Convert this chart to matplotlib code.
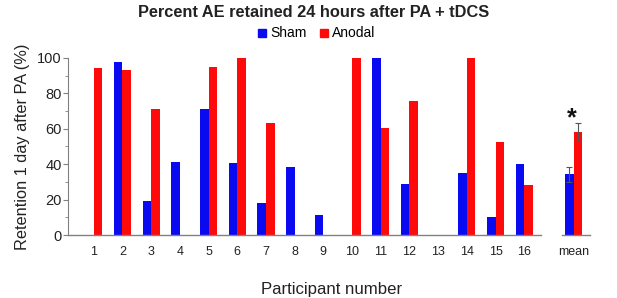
import matplotlib
matplotlib.use("Agg")
import matplotlib.pyplot as plt
import numpy as np

plt.rcParams['font.family'] = ['Liberation Sans', 'DejaVu Sans']

participants = [str(i) for i in range(1, 17)]
# np.nan = no bar for that participant
sham = [np.nan, 97.7, 19.5, 41.0, 71.1, 40.4, 18.0, 38.5, 11.3, np.nan,
        100, 28.6, np.nan, 34.8, 10.3, 40.0]
anodal = [94.5, 93.2, 70.9, np.nan, 95.1, 100, 63.0, np.nan, np.nan, 100,
          60.2, 75.8, np.nan, 100, 52.8, 28.4]
mean_sham, mean_anodal = 34.3, 58.2
err_sham, err_anodal = 4.3, 5.0

blue = "#0a0af0"
red = "#ff0a0a"
grey = "#808080"
txt = "#222222"

fig = plt.figure(figsize=(6.17, 2.98), dpi=100)
ax = fig.add_axes([0.110, 0.211, 0.856, 0.595])

x = np.arange(1, 17)
w = 0.3
ax.bar(x - w / 2, sham, w, color=blue)
ax.bar(x + w / 2, anodal, w, color=red)

xm = 17.72
ekw = dict(ecolor="#555555", elinewidth=0.8, capsize=2, capthick=0.8)
ax.bar(xm - w / 2, mean_sham, w, color=blue, yerr=err_sham, error_kw=ekw)
ax.bar(xm + w / 2, mean_anodal, w, color=red, yerr=err_anodal, error_kw=ekw)
ax.text(xm - 0.05, 66.0, "*", ha="center", va="center",
        fontsize=18, fontweight="bold", color="#111111")

ax.set_xlim(0.1, 18.5)
ax.set_ylim(0, 100)

# broken x axis line
ax.plot([0.1, 16.6], [0, 0], color=grey, lw=1, clip_on=False)
ax.plot([17.3, 18.28], [0, 0], color=grey, lw=1, clip_on=False)

for s in ["top", "right", "bottom"]:
    ax.spines[s].set_visible(False)
ax.spines["left"].set_color(grey)
ax.spines["left"].set_bounds(0, 100)

ax.set_yticks(np.arange(0, 101, 20))
ax.set_yticks(np.arange(10, 100, 20), minor=True)
ax.tick_params(axis="y", which="major", colors=grey, labelcolor=txt,
               labelsize=10.5, length=3.5, pad=1)
ax.tick_params(axis="y", which="minor", colors=grey, length=2.5)
ax.set_xticks(list(x) + [xm])
ax.set_xticklabels(participants + ["mean"])
ax.tick_params(axis="x", length=0, labelsize=9, labelcolor=txt, pad=8)

ax.set_ylabel("Retention 1 day after PA (%)", fontsize=11.8, color=txt)
ax.yaxis.set_label_coords(-0.072, 0.5)
ax.set_xlabel("Participant number", fontsize=12.1, color=txt, labelpad=17)

fig.text(0.509, 0.957, "Percent AE retained 24 hours after PA + tDCS",
         ha="center", va="center", fontsize=11.8, fontweight="bold", color=txt)
h1 = plt.Line2D([], [], marker="s", ls="", color=blue, markersize=5.5)
h2 = plt.Line2D([], [], marker="s", ls="", color=red, markersize=5.5)
fig.legend([h1, h2], ["Sham", "Anodal"], loc="center", bbox_to_anchor=(0.511, 0.888),
           ncol=2, frameon=False, fontsize=10, handletextpad=0.05,
           columnspacing=0.8, handlelength=1)

fig.savefig("out.png", dpi=100)
